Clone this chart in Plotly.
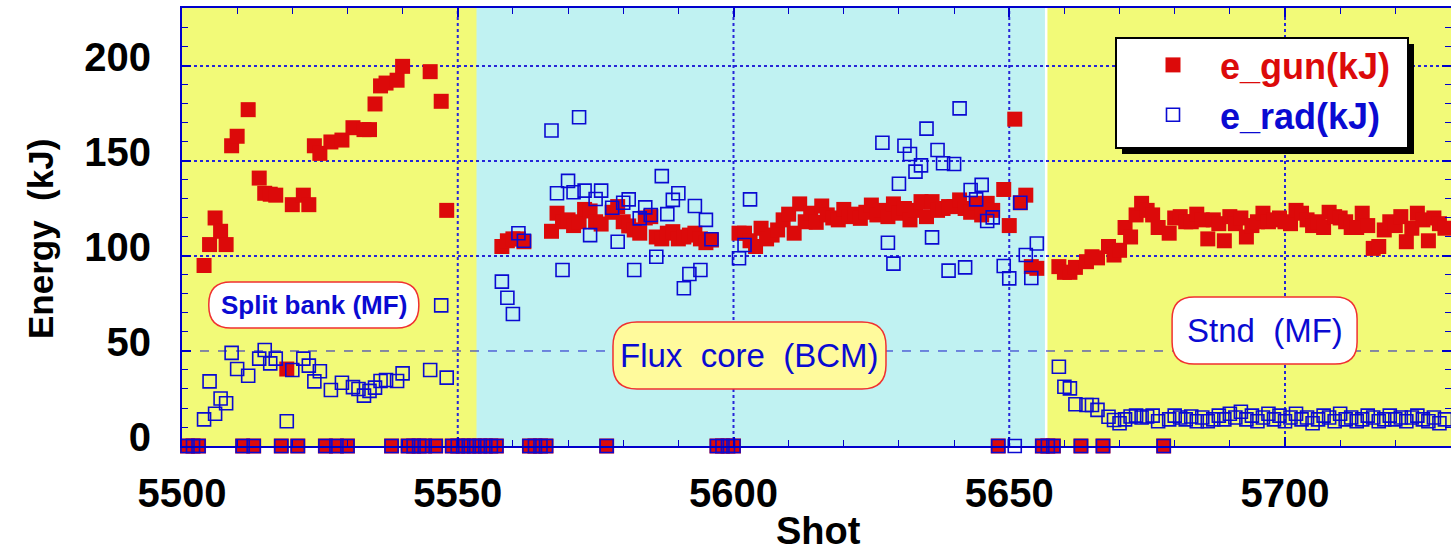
import plotly.graph_objects as go

# ---- data: shot number vs gun energy and radiated energy (kJ) ----
# Split-bank (MF) shots
shots_split = list(range(5501, 5558))
e_gun_split = [0, 0, 0, 95, 106, 120, 113, 106, 158, 163,
               0, 177, 0, 141, 133, 132.5, 132, 0, 40.5, 127,
               0, 132, 127, 158, 154, 0, 160, 0, 161, 0,
               167.5, None, 166.5, 166.5, 180, 189.5, 191, 0, 192.5, 199.8,
               0, 0, 0, 0, 197, 0, 181.4, 124, 0, 0,
               0, 0, 0, 0, 0, 0, 0]
e_rad_split = [0, 0, 0, 14, 34, 17, 25, 22.5, 49, 40.5,
               0, 37, 0, 46, 50.5, 43.5, 46, 0, 13, 40,
               0, 46, 42.3, 34, 39.3, 0, 29.5, 0, 33.3, 0,
               31, 30, 26.5, 29, 30.7, 34.2, 34.7, 0, 34.2, 38.2,
               0, 0, 0, 0, 40, 0, 74, 36, 0, 0,
               0, 0, 0, 0, 0, 0, 0]

# Flux-core (BCM) shots
shots_flux = list(range(5558, 5659))
e_gun_flux = [105, 108, 109, 109, 107.5,
              0, 0, 0, 0,
              113, 122.5, 118, 119, 116, 118, 124.5, 123.7, 118, 116.8,
              0,
              123, 126, 118, 115.8, 113.7, 112, 120, 120.7, 110, 109,
              112, 112.8, 109, 110, 111, 112, 109, 107, 108.4,
              0, 0, 0, 0,
              112, 112, 108, 105, 114.6, 109, 111, 113.7, 119, 122,
              112, 127.4, 118, 122.5, 117.7, 126.3, 121.6, 120, 119, 124.5,
              120.7, 122, 119.8, 123, 126.8, 121.6, 124, 120.7, 127.4, 122.5,
              125, 119, 124, 128.6, 120.7, 128.6, 124, 125, 126, 126,
              129.5, 125, 123, 127.7, 121.6, 127.7, 124,
              0,
              135, 116, 172, 128, 132, 94.4, 93.5,
              0, 0, 0]
e_rad_flux = [86.5, 78, 69.5, 112, 108,
              0, 0, 0, 0,
              166, 133, 92.6, 139.5, 133.5, 173, 134.4, 111, 130, 134.4,
              0,
              125.4, 107.5, 128, 129.8, 92.6, 119.8, 125.6, 121.6, 99.6, 142,
              122, 129.5, 133, 83, 90.5, 126.3, 92.6, 119, 108.8,
              0, 0, 0, 0,
              98.8, 105.8, 129.8,
              None, None, None, None, None, None, None, None, None, None,
              None, None, None, None, None, None, None, None, None, None,
              None, None, None,
              159.6, 107, 96, 138, 158, 153.7, 144.4, 147.7, 167, 109.8,
              155.8, 148.8, 92.3, 148.4, 177.7, 94, 134.7, 129.8, 137.4, 118.4,
              120.3,
              0,
              94.7, 88.2, 0, 128, 100.5, 88.4, 106.6,
              0, 0, 0]

# Standard (MF) shots
shots_stnd = list(range(5659, 5730))
e_gun_stnd = [94.4, 91.4, 91.4, 94,
              0,
              97, 99.6, 99,
              0,
              105, 100.5, 103, 115, 110, 121.6, 127.7, 124, 121.6, 115,
              0,
              112, 120, 120.7, 118, 118, 122, 119, 109, 119, 117,
              108, 120.7, 117, 120, 110, 116, 118, 122.5, 118, 119,
              120, 118, 117, 124, 122.5, 119, 116, 118, 115, 123,
              120.7, 120, 118, 115, 115, 122.5, 116, 104, 105, 113.7,
              118, 116, 120.7, 107.5, 114.6, 122.5, 119, 108, 120, 117,
              114.6]
e_rad_stnd = [41.7, 31.2, 30.3, 22,
              0,
              21.6, 21.6, 19,
              0,
              15.4, 13.7, 12, 14, 15.5, 16, 15, 15.5, 16, 13,
              0,
              14, 16, 15, 14, 15.5, 13, 15, 13, 14, 16,
              14, 17, 15, 18, 14, 16, 13, 15, 17, 14,
              16, 13, 15, 17, 14, 15, 12, 14, 16, 15,
              13, 17, 14, 15, 13, 14, 16, 15, 13, 14,
              16, 14, 15, 13, 15, 16, 14, 13, 15, 12,
              14]

shots = shots_split + shots_flux + shots_stnd
e_gun = e_gun_split + e_gun_flux + e_gun_stnd
e_rad = e_rad_split + e_rad_flux + e_rad_stnd

x_ticks = [5500, 5550, 5600, 5650, 5700]
y_ticks = [0, 50, 100, 150, 200]

# campaign boundaries (shot axis) for the shaded background bands
flux_start, flux_end = 5553.4, 5656.7

# ---- figure geometry ----
W, H = 1451, 554
ML, MR, MT, MB = 182, 0, 8, 108
PW, PH = W - ML - MR, H - MT - MB


def px(xp):
    return (xp - ML) / PW


def py(yp):
    return (H - MB - yp) / PH


FONT = "Liberation Sans, Arial, sans-serif"
RED = "#DC0A0A"
BLUE = "#0A0AD2"
GRID = "#2626D8"
YELLOW = "#F2FA78"
CYAN = "#C0F2F2"

fig = go.Figure()
fig.add_trace(go.Scatter(
    x=shots, y=e_gun, mode="markers", name=f'<span style="color:{RED}">e_gun(kJ)</span>',
    marker=dict(symbol="square", size=15, color=RED, line=dict(width=0)),
    cliponaxis=False,
))
fig.add_trace(go.Scatter(
    x=shots, y=e_rad, mode="markers", name=f'<span style="color:{BLUE}">e_rad(kJ)</span>',
    marker=dict(symbol="square-open", size=13, color=BLUE, line=dict(width=1.6)),
    cliponaxis=False,
))

shapes = []
# flux-core band and its white right edge
shapes.append(dict(type="rect", xref="x", yref="paper", x0=flux_start, x1=flux_end,
                   y0=0, y1=1, fillcolor=CYAN, line=dict(width=0), layer="below"))
shapes.append(dict(type="line", xref="x", yref="paper", x0=flux_end, x1=flux_end,
                   y0=0, y1=1, line=dict(color="white", width=2.5), layer="below"))
# grid lines
for xv in x_ticks[1:]:
    shapes.append(dict(type="line", xref="x", yref="paper", x0=xv, x1=xv, y0=0, y1=1,
                       line=dict(color=GRID, width=2, dash="dot"), layer="below"))
for yv in y_ticks[1:]:
    thin = yv == 50
    shapes.append(dict(type="line", xref="paper", yref="y", x0=0, x1=1, y0=yv, y1=yv,
                       line=dict(color="#1A1AC8" if thin else GRID, width=1 if thin else 2,
                                 dash="dash" if thin else "dot"), layer="below"))


def pill(xc, yc, w, h, r, fill):
    hw, hh = w / 2, h / 2
    path = (f"M {-hw + r},{-hh} L {hw - r},{-hh} Q {hw},{-hh} {hw},{-hh + r} "
            f"L {hw},{hh - r} Q {hw},{hh} {hw - r},{hh} L {-hw + r},{hh} "
            f"Q {-hw},{hh} {-hw},{hh - r} L {-hw},{-hh + r} Q {-hw},{-hh} {-hw + r},{-hh} Z")
    return dict(type="path", xref="x", yref="y", xsizemode="pixel", ysizemode="pixel",
                xanchor=xc, yanchor=yc, path=path, fillcolor=fill,
                line=dict(color="#F03030", width=1.5), layer="above")


# region labels
labels = [
    dict(text="<b>Split bank (MF)</b>", x=5523.9, y=74.2, w=210, h=46, r=22, fill="white",
         size=26),
    dict(text="Flux  core  (BCM)", x=5602.9, y=47.6, w=273, h=67, r=24, fill="#FFFA9C",
         size=33),
    dict(text="Stnd  (MF)", x=5696.3, y=60.8, w=185, h=67, r=22, fill="white", size=33),
]
annotations = []
for lb in labels:
    shapes.append(pill(lb["x"], lb["y"], lb["w"], lb["h"], lb["r"], lb["fill"]))
    annotations.append(dict(x=lb["x"], y=lb["y"], xref="x", yref="y", text=lb["text"],
                            showarrow=False, xanchor="center", yanchor="middle",
                            font=dict(family=FONT, size=lb["size"], color=BLUE)))

# axis titles
annotations.append(dict(x=px(819), y=py(553), xref="paper", yref="paper", text="Shot",
                        showarrow=False, xanchor="center", yanchor="bottom",
                        borderpad=0,
                        font=dict(family=FONT, size=38, color="black", weight="bold")))
annotations.append(dict(x=px(40), y=py(239), xref="paper", yref="paper",
                        text="Energy\u00a0\u00a0(kJ)", textangle=-90,
                        showarrow=False, xanchor="center", yanchor="middle",
                        font=dict(family=FONT, size=35, color="black", weight="bold")))

# legend frame with drop shadow
lx0, lx1, ly0, ly1 = 1116, 1408, 38, 148
shapes.append(dict(type="rect", xref="paper", yref="paper", x0=px(lx0 + 6), x1=px(lx1 + 6),
                   y0=py(ly1 + 6), y1=py(ly0 + 6), fillcolor="black", line=dict(width=0),
                   layer="above"))
shapes.append(dict(type="rect", xref="paper", yref="paper", x0=px(lx0), x1=px(lx1),
                   y0=py(ly1), y1=py(ly0), fillcolor="white",
                   line=dict(color="black", width=2), layer="above"))

tickfont = dict(family=FONT, size=40, color="black", weight="bold")
axis_common = dict(
    showline=True, linecolor="#0000CC", linewidth=2, mirror="ticks",
    ticks="inside", ticklen=9, tickwidth=1.5, tickcolor="#0000CC",
    showgrid=False, zeroline=False, tickfont=tickfont, automargin=False,
)

fig.update_layout(
    width=W, height=H,
    margin=dict(l=ML, r=MR, t=MT, b=MB),
    paper_bgcolor="white", plot_bgcolor=YELLOW,
    shapes=shapes, annotations=annotations,
    showlegend=True,
    legend=dict(x=px(1126), y=py(35), xanchor="left", yanchor="top",
                bgcolor="rgba(0,0,0,0)", borderwidth=0, itemwidth=84,
                font=dict(family=FONT, size=36, weight="bold"),
                itemsizing="trace"),
    xaxis=dict(range=[5500, 5730.1], tickvals=x_ticks, ticklabelstandoff=11,
               minor=dict(dtick=10, tick0=5500, ticks="inside", ticklen=6,
                          tickcolor="#0000CC", tickwidth=1.2),
               **axis_common),
    yaxis=dict(range=[0, 230.5], tickvals=y_ticks, ticklabelstandoff=21, ticklabelshift=-9,
               minor=dict(dtick=10, tick0=0, ticks="inside", ticklen=6,
                          tickcolor="#0000CC", tickwidth=1.2),
               **axis_common),
)

fig.write_html("out.html")
